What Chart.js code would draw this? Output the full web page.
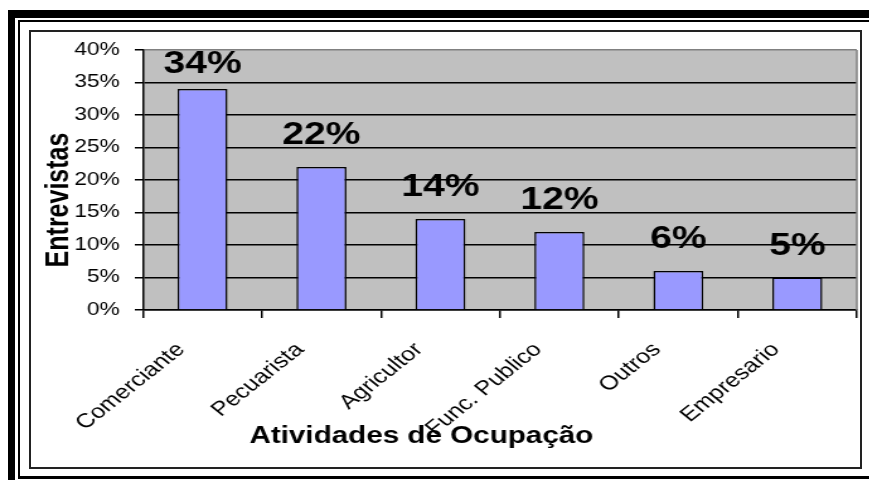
<!DOCTYPE html>
<html>
<head>
<meta charset="utf-8">
<script src="https://cdn.jsdelivr.net/npm/chart.js@4.4.0/dist/chart.umd.min.js"></script>
<style>
html, body { margin: 0; padding: 0; background: #fff; }
body { width: 869px; height: 480px; position: relative; overflow: hidden; }
.frame-thick { position: absolute; left: 8px; top: 10px; right: -20px; bottom: -20px; border-top: 8px solid #000; border-left: 7px solid #000; }
.frame-thin { position: absolute; left: 18px; top: 20px; right: -20px; height: 454px; border-top: 2px solid #000; border-left: 2px solid #000; border-bottom: 3px solid #000; }
.box { position: absolute; left: 29px; top: 30px; width: 829px; height: 435px; border: 2px solid #222; }
/* the reference is stretched sideways, so the chart is drawn narrow and widened */
#wrap { position: absolute; left: 0; top: 0; width: 690px; height: 480px; transform: scaleX(1.26); transform-origin: 0 0; }
</style>
</head>
<body>
<div class="frame-thick"></div>
<div class="frame-thin"></div>
<div class="box"></div>
<div id="wrap"><canvas id="chart"></canvas></div>
<script>
const categories = ['Comerciante', 'Pecuarista', 'Agricultor', 'Func. Publico', 'Outros', 'Empresario'];
const values = [34, 22, 14, 12, 6, 5];
const valueLabels = ['34%', '22%', '14%', '12%', '6%', '5%'];
const yTickLabels = ['0%', '5%', '10%', '15%', '20%', '25%', '30%', '35%', '40%'];
const xTitle = 'Atividades de Ocupação';
const yTitle = 'Entrevistas';

const FONT = '"Liberation Sans", Arial, sans-serif';

// gray plot area + gray right edge
const plotBg = {
    id: 'plotBg',
    beforeDraw(chart) {
        const { ctx, chartArea: a } = chart;
        ctx.save();
        ctx.fillStyle = '#c0c0c0';
        ctx.fillRect(a.left, a.top, a.right - a.left, a.bottom - a.top);
        ctx.restore();
    },
    afterDatasetsDraw(chart) {
        const { ctx, chartArea: a } = chart;
        ctx.save();
        ctx.strokeStyle = '#808080';
        ctx.lineWidth = 1.5;
        ctx.beginPath();
        ctx.moveTo(a.right, a.top);
        ctx.lineTo(a.right, a.bottom);
        ctx.stroke();
        ctx.restore();
    }
};

// big value labels over the bars
const barLabels = {
    id: 'barLabels',
    afterDatasetsDraw(chart) {
        const { ctx, chartArea: a } = chart;
        const meta = chart.getDatasetMeta(0);
        ctx.save();
        ctx.font = 'bold 31px ' + FONT;
        ctx.fillStyle = '#000';
        ctx.textAlign = 'center';
        ctx.textBaseline = 'alphabetic';
        meta.data.forEach((bar, i) => {
            let y = bar.y - 23;
            if (y < a.top + 23) y = a.top + 23;
            ctx.fillText(valueLabels[i], bar.x, y);
        });
        ctx.restore();
    }
};

// axis titles
const axisTitles = {
    id: 'axisTitles',
    afterDraw(chart) {
        const { ctx, chartArea: a } = chart;
        ctx.save();
        ctx.fillStyle = '#000';
        ctx.font = 'bold 23.5px ' + FONT;
        ctx.textAlign = 'center';
        ctx.textBaseline = 'alphabetic';
        ctx.fillText(xTitle, a.left + (a.right - a.left) * 0.39, 443);

        ctx.translate(a.left - 66, 200);
        ctx.rotate(-Math.PI / 2);
        ctx.font = 'bold 25px ' + FONT;
        ctx.textBaseline = 'middle';
        ctx.fillText(yTitle, 0, 0);
        ctx.restore();
    }
};

new Chart(document.querySelector('#chart'), {
    type: 'bar',
    data: {
        labels: categories,
        datasets: [{
            data: values,
            backgroundColor: '#9999ff',
            borderColor: '#000',
            borderWidth: 1.5,
            barPercentage: 0.42,
            categoryPercentage: 1
        }]
    },
    options: {
        responsive: true,
        maintainAspectRatio: false,
        animation: false,
        layout: { padding: { left: 24, right: 10, top: 50, bottom: 12 } },
        plugins: { legend: { display: false }, tooltip: { enabled: false } },
        scales: {
            x: {
                grid: { offset: true, drawOnChartArea: false, color: '#000', tickLength: 8, lineWidth: 1.5 },
                border: { color: '#000', width: 1.5 },
                ticks: {
                    color: '#000',
                    font: { family: FONT, size: 20 },
                    minRotation: 45,
                    maxRotation: 45,
                    autoSkip: false,
                    padding: 20,
                    labelOffset: -17
                },
                afterFit(scale) { scale.height = 158; }
            },
            y: {
                min: 0,
                max: 40,
                ticks: {
                    stepSize: 5,
                    color: '#000',
                    font: { family: FONT, size: 18 },
                    padding: 12,
                    callback: (v, i) => yTickLabels[i]
                },
                grid: {
                    color: c => (c.tick && c.tick.value === 40 ? '#808080' : '#000'),
                    tickColor: '#000',
                    tickLength: 6.5,
                    lineWidth: 1.5
                },
                border: { color: '#000', width: 1.5 },
                afterFit(scale) { scale.width = 89.5; }
            }
        }
    },
    plugins: [plotBg, barLabels, axisTitles]
});
</script>
</body>
</html>
